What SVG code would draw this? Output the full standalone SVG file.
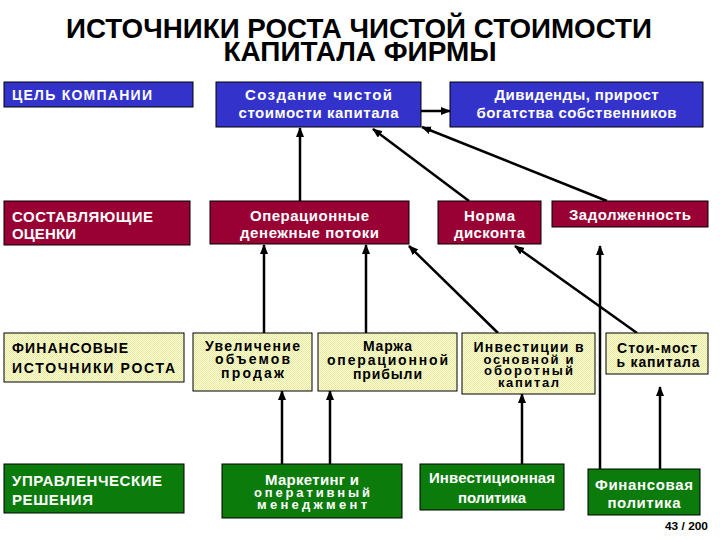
<svg xmlns="http://www.w3.org/2000/svg" width="720" height="540" viewBox="0 0 720 540">
<style>
.t{font-family:"Liberation Sans",Arial,sans-serif;font-weight:bold}
.w{fill:#fff;font-size:15px}
.k{fill:#000;font-size:14px}
.s{font-size:13px}
.l{font-size:14px}
.c{text-anchor:middle}
.b{stroke:#000;stroke-width:1}
.blue{fill:#3333CC}
.red{fill:#990033}
.grn{fill:#0B7B0B}
.yel{fill:url(#dots)}
.ln{stroke:#000;stroke-width:2.5;fill:none;marker-end:url(#ah)}
</style>
<defs>
<pattern id="dots" width="2" height="2" patternUnits="userSpaceOnUse">
<rect width="2" height="2" fill="#FFFFCC"/>
<rect width="1" height="1" fill="#E4E8AA"/>
<rect x="1" y="1" width="1" height="1" fill="#E4E8AA"/>
</pattern>
<marker id="ah" viewBox="0 0 10 8" refX="9" refY="4" markerWidth="10" markerHeight="8" markerUnits="userSpaceOnUse" orient="auto">
<path d="M0,0 L10,4 L0,8 z" fill="#000"/>
</marker>
</defs>
<rect width="720" height="540" fill="#fff"/>
<g id="title" class="t" font-size="28" text-anchor="middle">
<text x="359" y="38" textLength="586" lengthAdjust="spacingAndGlyphs">ИСТОЧНИКИ РОСТА ЧИСТОЙ СТОИМОСТИ</text>
<text x="360" y="61" textLength="273" lengthAdjust="spacingAndGlyphs">КАПИТАЛА ФИРМЫ</text>
</g>
<g id="connectors">
<line class="ln" x1="300" y1="201" x2="300" y2="128"/>
<line class="ln" x1="421" y1="111" x2="450" y2="111"/>
<line class="ln" x1="469" y1="201" x2="373" y2="129"/>
<line class="ln" x1="607" y1="201" x2="422" y2="127"/>
<line class="ln" x1="264" y1="333" x2="264" y2="245"/>
<line class="ln" x1="366" y1="333" x2="366" y2="245"/>
<line class="ln" x1="498" y1="333" x2="409" y2="246"/>
<line class="ln" x1="637" y1="333" x2="515" y2="246"/>
<line class="ln" x1="600" y1="469" x2="600" y2="246"/>
<line class="ln" x1="282" y1="464" x2="282" y2="391"/>
<line class="ln" x1="330" y1="464" x2="330" y2="391"/>
<line class="ln" x1="522" y1="464" x2="522" y2="394"/>
<line class="ln" x1="660" y1="469" x2="660" y2="387"/>
</g>
<g id="goal-label"><rect class="blue b" x="4" y="82" width="189" height="25"/>
<text class="t w l" x="12" y="100" textLength="140" lengthAdjust="spacing">ЦЕЛЬ КОМПАНИИ</text></g>
<g id="value-creation"><rect class="blue b" x="216" y="82" width="205" height="45"/>
<text class="t w c" x="318.5" y="100" textLength="147" lengthAdjust="spacing">Создание чистой</text>
<text class="t w c" x="318.5" y="118" textLength="160" lengthAdjust="spacing">стоимости капитала</text></g>
<g id="dividends"><rect class="blue b" x="450" y="82" width="253" height="45"/>
<text class="t w c" x="576.5" y="100" textLength="164" lengthAdjust="spacing">Дивиденды, прирост</text>
<text class="t w c" x="576.5" y="118" textLength="200" lengthAdjust="spacing">богатства собственников</text></g>

<g id="components-label"><rect class="red b" x="4" y="201" width="186" height="44"/>
<text class="t w" x="12" y="222" textLength="141" lengthAdjust="spacing">СОСТАВЛЯЮЩИЕ</text>
<text class="t w" x="12" y="239" textLength="64" lengthAdjust="spacing">ОЦЕНКИ</text></g>
<g id="cash-flows"><rect class="red b" x="210" y="201" width="199" height="43"/>
<text class="t w c" x="309.5" y="221" textLength="119" lengthAdjust="spacing">Операционные</text>
<text class="t w c" x="309.5" y="238" textLength="139" lengthAdjust="spacing">денежные потоки</text></g>
<g id="discount-rate"><rect class="red b" x="438" y="201" width="103" height="43"/>
<text class="t w c" x="489.5" y="221" textLength="51" lengthAdjust="spacing">Норма</text>
<text class="t w c" x="489.5" y="238" textLength="71" lengthAdjust="spacing">дисконта</text></g>
<g id="debt"><rect class="red b" x="552" y="201" width="156" height="26"/>
<text class="t w c" x="630" y="220" textLength="122" lengthAdjust="spacing">Задолженность</text></g>

<g id="sources-label"><rect class="yel b" x="4" y="333" width="180" height="49"/>
<text class="t k" x="12" y="353" textLength="116" lengthAdjust="spacing">ФИНАНСОВЫЕ</text>
<text class="t k" x="12" y="373" textLength="163" lengthAdjust="spacing">ИСТОЧНИКИ РОСТА</text></g>
<g id="sales-growth"><rect class="yel b" x="193" y="333" width="119" height="58"/>
<text class="t k c" x="252.5" y="351" textLength="95" lengthAdjust="spacing">Увеличение</text>
<text class="t k c" x="252.5" y="364" textLength="75" lengthAdjust="spacing">объемов</text>
<text class="t k c" x="252.5" y="378" textLength="63" lengthAdjust="spacing">продаж</text></g>
<g id="margin"><rect class="yel b" x="318" y="333" width="139" height="58"/>
<text class="t k c" x="387.5" y="351" textLength="49" lengthAdjust="spacing">Маржа</text>
<text class="t k c" x="387.5" y="365" textLength="121" lengthAdjust="spacing">операционной</text>
<text class="t k c" x="387.5" y="379" textLength="69" lengthAdjust="spacing">прибыли</text></g>
<g id="investment"><rect class="yel b" x="462" y="333" width="133" height="61"/>
<text class="t k c" x="528.5" y="352" textLength="110" lengthAdjust="spacing">Инвестиции в</text>
<text class="t k c s" x="528.5" y="364" textLength="90" lengthAdjust="spacing">основной и</text>
<text class="t k c s" x="528.5" y="375" textLength="89" lengthAdjust="spacing">оборотный</text>
<text class="t k c s" x="528.5" y="387" textLength="61" lengthAdjust="spacing">капитал</text></g>
<g id="cost-of-capital"><rect class="yel b" x="606" y="333" width="102" height="41"/>
<text class="t k c" x="657" y="353" textLength="80" lengthAdjust="spacing">Стои-мост</text>
<text class="t k c" x="658" y="367" textLength="83" lengthAdjust="spacing">ь капитала</text></g>

<g id="decisions-label"><rect class="grn b" x="4" y="464" width="180" height="49"/>
<text class="t w" x="12" y="486" textLength="150" lengthAdjust="spacing">УПРАВЛЕНЧЕСКИЕ</text>
<text class="t w" x="12" y="505" textLength="81" lengthAdjust="spacing">РЕШЕНИЯ</text></g>
<g id="marketing"><rect class="grn b" x="222" y="464" width="180" height="54"/>
<text class="t w c" x="312" y="485" textLength="94" lengthAdjust="spacing">Маркетинг и</text>
<text class="t w c s" x="312" y="497" textLength="116" lengthAdjust="spacing">оперативный</text>
<text class="t w c s" x="312" y="509" textLength="110" lengthAdjust="spacing">менеджмент</text></g>
<g id="investment-policy"><rect class="grn b" x="420" y="464" width="144" height="46"/>
<text class="t w c" x="492" y="483" textLength="126" lengthAdjust="spacing">Инвестиционная</text>
<text class="t w c" x="492" y="503" textLength="68" lengthAdjust="spacing">политика</text></g>
<g id="financial-policy"><rect class="grn b" x="588" y="469" width="112" height="46"/>
<text class="t w c" x="644" y="490" textLength="98" lengthAdjust="spacing">Финансовая</text>
<text class="t w c" x="644" y="508" textLength="73" lengthAdjust="spacing">политика</text></g>

<text class="t" x="665" y="530" font-size="10" textLength="43" lengthAdjust="spacingAndGlyphs">43 / 200</text>
</svg>
